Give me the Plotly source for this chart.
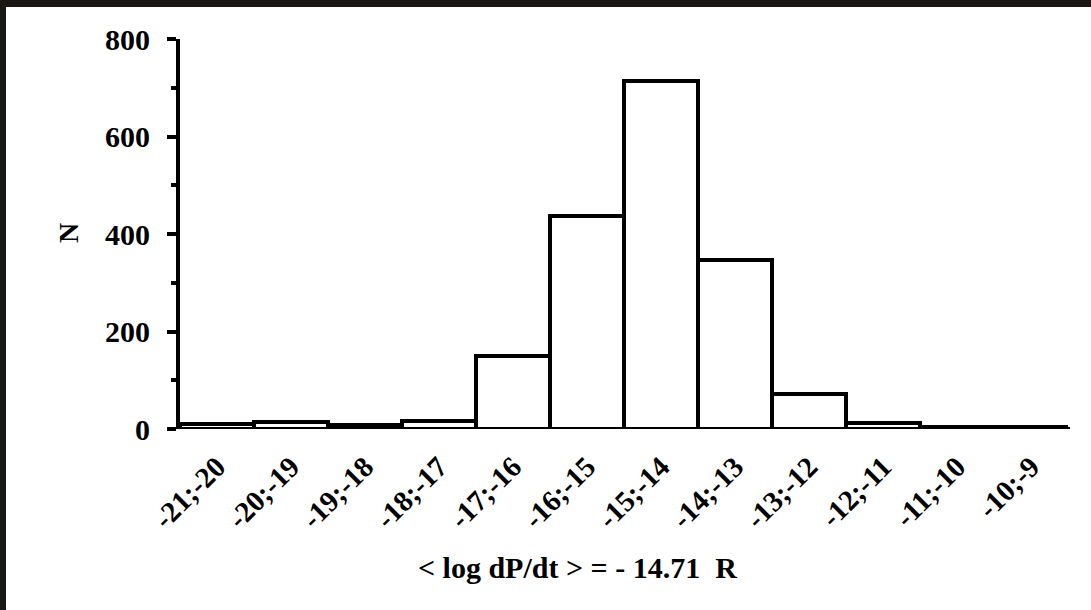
import plotly.graph_objects as go

# Histogram of period-derivative classes
bins = ["-21;-20", "-20;-19", "-19;-18", "-18;-17", "-17;-16", "-16;-15",
        "-15;-14", "-14;-13", "-13;-12", "-12;-11", "-11;-10", "-10;-9"]
counts = [10, 14, 8, 17, 150, 436, 714, 347, 72, 12, 5, 5]

y_ticks = [0, 200, 400, 600, 800]
x_title = "< log dP/dt > = - 14.71\u00a0\u00a0R"
y_title = "N"

W, H = 1091, 610
L, R, T, B = 180, 23, 39, 181
pw, ph = W - L - R, H - T - B


def px_x(x):
    return (x - L) / pw


def px_y(y):
    return 1 - (y - T) / ph


def bold(size):
    return dict(family="Liberation Serif", size=size, color="black", weight="bold")


fig = go.Figure(go.Bar(
    x=bins, y=counts,
    marker=dict(color="white", line=dict(color="black", width=4)),
))

fig.update_layout(
    width=W, height=H,
    margin=dict(l=L, r=R, t=T, b=B),
    paper_bgcolor="white", plot_bgcolor="white",
    bargap=0, showlegend=False,
    xaxis=dict(
        type="category", range=[-0.5, 11.5],
        showline=False, showgrid=False, zeroline=False, ticks="",
        tickangle=-45, ticklabelstandoff=14,
        tickfont=bold(29),
    ),
    yaxis=dict(
        range=[0, 800], tickvals=y_ticks,
        showline=True, linecolor="black", linewidth=4,
        showgrid=False, zeroline=False,
        ticks="outside", ticklen=9, tickwidth=4, tickcolor="black",
        minor=dict(dtick=100, ticks="outside", ticklen=5, tickwidth=4, tickcolor="black"),
        ticklabelstandoff=11,
        tickfont=bold(30),
    ),
)

# baseline running under the bars, extending past the y axis
fig.add_shape(type="line", xref="paper", yref="y",
              x0=px_x(167), x1=px_x(1070), y0=0, y1=0,
              line=dict(color="black", width=4), layer="above")

# axis captions
fig.add_annotation(xref="paper", yref="paper", x=px_x(577), y=px_y(567),
                   text=x_title, showarrow=False,
                   xanchor="center", yanchor="middle", font=bold(30))
fig.add_annotation(xref="paper", yref="paper", x=px_x(68), y=px_y(233),
                   text=y_title, showarrow=False, textangle=-90,
                   xanchor="center", yanchor="middle", font=bold(28))

# dark frame along the top and left edges
frame = "#1a1814"
fig.add_shape(type="rect", xref="paper", yref="paper",
              x0=px_x(0), x1=px_x(W), y0=px_y(7), y1=px_y(0),
              fillcolor=frame, line=dict(width=0), layer="above")
fig.add_shape(type="rect", xref="paper", yref="paper",
              x0=px_x(0), x1=px_x(6), y0=px_y(H), y1=px_y(0),
              fillcolor=frame, line=dict(width=0), layer="above")

fig.write_html("out.html")
